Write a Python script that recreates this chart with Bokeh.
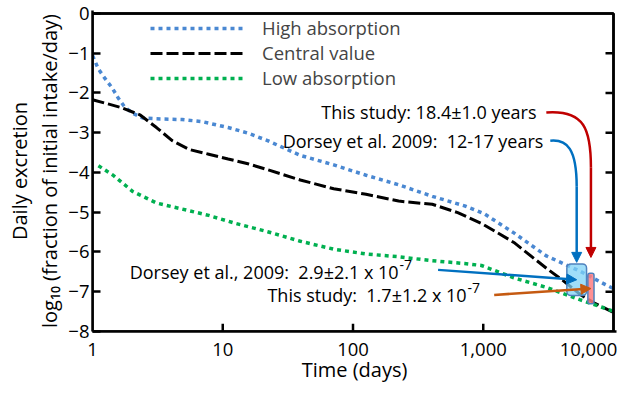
import numpy as np
from bokeh.plotting import figure
from bokeh.models import (Range1d, LogAxis, FixedTicker, Legend, LegendItem,
                          Label, Arrow, NormalHead)
from bokeh.embed import file_html
from bokeh.resources import INLINE

FONT = "Open Sans"

# ---- data ----
high_days = [1, 1.11, 1.25, 1.42, 1.57, 1.77, 2.04, 2.43, 3.10, 4.88, 6.90, 11.0, 15.6,
             22.1, 39.4, 71.1, 126, 224, 406, 719, 1019, 1718, 3055, 5508, 8670, 10000]
high_log = [-1.06, -1.40, -1.64, -1.88, -2.12, -2.36, -2.51, -2.63, -2.65, -2.67, -2.72,
            -2.87, -3.01, -3.20, -3.57, -3.81, -4.07, -4.31, -4.60, -4.84, -5.04, -5.52,
            -6.10, -6.48, -6.82, -6.92]

central_days = [1, 1.63, 2.31, 3.10, 4.09, 5.51, 7.80, 11.0, 15.6, 22.1, 39.4, 71.1, 126,
                224, 406, 637, 968, 1718, 3055, 4102, 5508, 7278, 10000]
central_log = [-2.17, -2.36, -2.55, -2.87, -3.20, -3.42, -3.54, -3.66, -3.78, -3.93, -4.19,
               -4.41, -4.55, -4.72, -4.80, -5.01, -5.28, -5.76, -6.41, -6.72, -7.06, -7.30,
               -7.52]

low_days = [1.11, 1.44, 2.04, 3.10, 4.88, 7.80, 12.5, 22.1, 39.4, 71.1, 126, 224, 406,
            719, 968, 1718, 3055, 5508, 10000]
low_log = [-3.83, -4.07, -4.48, -4.77, -4.92, -5.08, -5.28, -5.49, -5.73, -5.93, -6.05,
           -6.12, -6.22, -6.29, -6.34, -6.65, -6.89, -7.20, -7.49]

# half-life ranges (years) and excretion rates (fraction/day)
dorsey_years = [12.0, 17.0]
dorsey_rate_mean, dorsey_rate_err = 2.9e-7, 2.1e-7
study_years = [17.4, 19.4]
study_rate_mean, study_rate_err = 1.7e-7, 1.2e-7
DAYS_PER_YEAR = 365.25

x_ticks = [1, 10, 100, 1000, 10000]
x_tick_labels = ["1", "10", "100", "1,000", "10,000"]
y_ticks = [0, -1, -2, -3, -4, -5, -6, -7, -8]
X_MIN, X_MAX, Y_MIN, Y_MAX = 1, 10000, -8, 0

# ---- layout helpers (pixels) ----
PX_DECADE = 130.25      # approx. pixels per decade
PX_UNIT = 40.75         # approx. pixels per log10 unit on y
EDGE_PX = 3             # frame extends a few px beyond the data box
TICK_PX = 8
LAST_LABEL_SHIFT_PX = 25

# ---- derived box geometry ----
def box(years, mean, err):
    l, r = years[0] * DAYS_PER_YEAR, years[1] * DAYS_PER_YEAR
    b, t = np.log10(mean - err), np.log10(mean + err)
    return l, r, b, t

dl, dr, db, dt = box(dorsey_years, dorsey_rate_mean, dorsey_rate_err)
sl, sr, sb, st = box(study_years, study_rate_mean, study_rate_err)
dxc, dyc = np.sqrt(dl * dr), (db + dt) / 2
sxc, syc = np.sqrt(sl * sr), (sb + st) / 2

W, H = 618, 385
p = figure(width=W, height=H, x_axis_type="log", x_axis_location=None,
           x_range=Range1d(X_MIN, X_MAX * 10 ** (EDGE_PX / PX_DECADE)),
           y_range=Range1d(Y_MIN, Y_MAX + EDGE_PX / PX_UNIT),
           output_backend="svg", toolbar_location=None,
           min_border_left=92, min_border_right=2, min_border_top=10, min_border_bottom=40)
p.xgrid.visible = False
p.ygrid.visible = False
p.outline_line_color = None

r_high = p.line(high_days, high_log, line_color="#4a88d2", line_width=3.5, line_dash="4 4")
r_central = p.line(central_days, central_log, line_color="black", line_width=3, line_dash="12 4")
r_low = p.line(low_days, low_log, line_color="#00b050", line_width=3.5, line_dash="4 4")

# boxes
p.quad(left=[dl], right=[dr], bottom=[db], top=[dt], fill_color="#7fd3f7", fill_alpha=0.75,
       line_color="#4f81bd", line_width=1.5, border_radius=4)
p.quad(left=[sl], right=[sr], bottom=[sb], top=[st], fill_color="#ff7c80", fill_alpha=0.85,
       line_color="#4f81bd", line_width=1.5, border_radius=2)

# frame box drawn as an unfilled quad on the data box
p.quad(left=[X_MIN], right=[X_MAX], bottom=[Y_MIN], top=[Y_MAX], fill_color=None,
       line_color="black", line_width=2.5)

# top/right edges and inward ticks also drawn as head-less arrows
def edge(x0, y0, x1, y1):
    p.add_layout(Arrow(x_start=x0, y_start=y0, x_end=x1, y_end=y1, end=None,
                       line_color="black", line_width=2.5))

edge(X_MIN, Y_MAX, X_MAX, Y_MAX)
edge(X_MAX, Y_MIN, X_MAX, Y_MAX)
tick_x0 = X_MAX / 10 ** (TICK_PX / PX_DECADE)
for yt in y_ticks[1:-1]:
    edge(tick_x0, yt, X_MAX, yt)
for xt in x_ticks[1:-1]:
    edge(xt, Y_MIN, xt, Y_MIN + TICK_PX / PX_UNIT)

# x axis (labels; the last one nudged left so that it stays on the canvas)
label_pos = [int(round(t)) for t in x_ticks[:-1]] + \
            [int(round(x_ticks[-1] / 10 ** (LAST_LABEL_SHIFT_PX / PX_DECADE)))]
ax = LogAxis(ticker=FixedTicker(ticks=label_pos),
             major_label_overrides={pos: lab for pos, lab in zip(label_pos, x_tick_labels)},
             major_tick_line_color=None, minor_tick_line_color=None,
             axis_line_width=2.5, axis_label="Time (days)")
p.add_layout(ax, "below")

ay = p.yaxis[0]
ay.ticker = FixedTicker(ticks=y_ticks)
ay.axis_label = "Daily excretion\nlog\u2081\u2080 (fraction of initial intake/day)"
ay.axis_label_text_line_height = 1.12
ay.major_tick_in = TICK_PX
ay.major_tick_out = 0
ay.minor_tick_line_color = None
ay.axis_line_width = 2.5
ay.major_tick_line_width = 2.5
for a in (ax, ay):
    a.major_label_text_font = FONT
    a.major_label_text_font_size = "18.5px"
    a.major_label_text_color = "black"
    a.axis_label_text_font = FONT
    a.axis_label_text_font_size = "20px"
    a.axis_label_text_font_style = "normal"
    a.axis_label_text_color = "black"
ax.major_label_standoff = 5
ax.axis_label_standoff = -3
ay.major_label_standoff = 3
ay.axis_label_standoff = 2

# legend
legend = Legend(items=[LegendItem(label="High absorption", renderers=[r_high]),
                       LegendItem(label="Central value", renderers=[r_central]),
                       LegendItem(label="Low absorption", renderers=[r_low])],
                location=(58, 241), margin=0, padding=0, glyph_width=95, glyph_height=22,
                label_height=22, spacing=0, label_standoff=17,
                background_fill_alpha=0, border_line_alpha=0,
                label_text_font=FONT, label_text_font_size="18.5px")
p.add_layout(legend)

# annotation texts
TXT = dict(text_font=FONT, text_font_size="18px", text_color="black", text_baseline="middle")
SUP = dict(text_font=FONT, text_font_size="14px", text_color="black", text_baseline="middle",
           text_align="left", x_offset=1, y_offset=7)
p.add_layout(Label(x=2565, y=-2.49, text="This study: 18.4\u00b11.0 years", text_align="right", **TXT))
p.add_layout(Label(x=2897, y=-3.21, text="Dorsey et al. 2009: \u00a012-17 years", text_align="right", **TXT))
p.add_layout(Label(x=224, y=-6.50, text="Dorsey et al., 2009: \u00a02.9\u00b12.1 x 10", text_align="right", **TXT))
p.add_layout(Label(x=224, y=-6.50, text="-7", **SUP))
p.add_layout(Label(x=745, y=-7.08, text="This study: \u00a01.7\u00b11.2 x 10", text_align="right", **TXT))
p.add_layout(Label(x=745, y=-7.08, text="-7", **SUP))

# curved connectors + arrows
RED, BLUE, ORANGE = "#c00000", "#0070c0", "#c55a11"
p.bezier(x0=[3050], y0=[-2.49], cx0=[6010], cy0=[-2.42], cx1=[sxc], cy1=[-2.92],
         x1=[sxc], y1=[-3.88], line_color=RED, line_width=2.5)
p.add_layout(Arrow(x_start=sxc, y_start=-3.88, x_end=sxc, y_end=st + 0.4,
                   line_color=RED, line_width=2.5,
                   end=NormalHead(size=10, fill_color=RED, line_color=RED)))
p.bezier(x0=[3272], y0=[-3.20], cx0=[4400], cy0=[-3.16], cx1=[dxc], cy1=[-3.40],
         x1=[dxc], y1=[-4.36], line_color=BLUE, line_width=2.5)
p.add_layout(Arrow(x_start=dxc, y_start=-4.36, x_end=dxc, y_end=dt + 0.04,
                   line_color=BLUE, line_width=2.5,
                   end=NormalHead(size=10, fill_color=BLUE, line_color=BLUE)))
p.add_layout(Arrow(x_start=450, y_start=-6.45, x_end=dxc, y_end=dyc,
                   line_color=BLUE, line_width=2.5,
                   end=NormalHead(size=10, fill_color=BLUE, line_color=BLUE)))
p.add_layout(Arrow(x_start=1213, y_start=-7.08, x_end=sxc, y_end=syc,
                   line_color=ORANGE, line_width=2.5,
                   end=NormalHead(size=10, fill_color=ORANGE, line_color=ORANGE)))

open("out.html", "w").write(file_html(p, INLINE))
